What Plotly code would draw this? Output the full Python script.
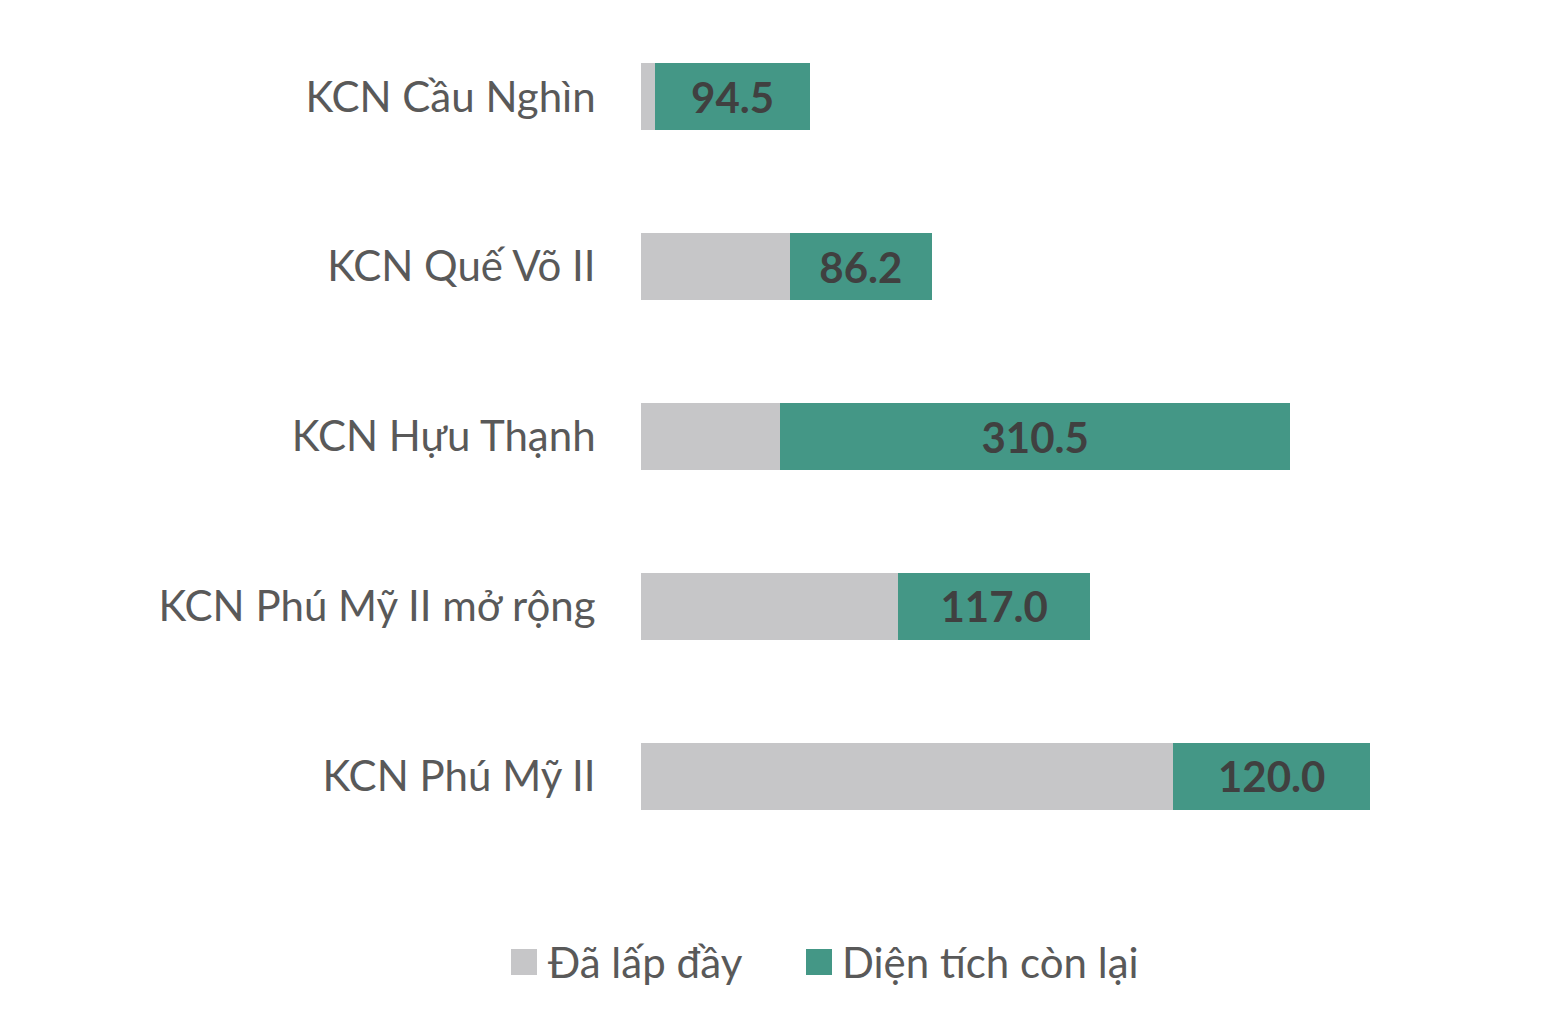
import plotly.graph_objects as go

categories = ["KCN Cầu Nghìn", "KCN Quế Võ II", "KCN Hựu Thạnh", "KCN Phú Mỹ II mở rộng", "KCN Phú Mỹ II"]
filled = [8.5, 90.6, 84.5, 156.3, 323.6]
remaining = [94.5, 86.2, 310.5, 117.0, 120.0]
series_names = ["Đã lấp đầy", "Diện tích còn lại"]

GRAY = "#C6C6C8"
TEAL = "#449786"
TXT = "#595959"
FONT = "Lato"

OFF = 8  # page offset of the figure inside the browser
W, H = 1560, 1026
ML, MR, MT, MB = 641 - OFF, 100, 12 - OFF, 165 + OFF
PW = W - ML - MR
PH = H - MT - MB

fig = go.Figure()
fig.add_trace(go.Bar(
    y=categories, x=filled, orientation="h", name=series_names[0],
    marker=dict(color=GRAY, line=dict(width=0)), showlegend=False,
))
fig.add_trace(go.Bar(
    y=categories, x=remaining, orientation="h", name=series_names[1],
    marker=dict(color=TEAL, line=dict(width=0)), showlegend=False,
    text=remaining, texttemplate="%{x:.1f}", textposition="inside",
    insidetextanchor="middle", textangle=0, constraintext="none",
    insidetextfont=dict(family=FONT, size=42, color="#404040", weight="bold"),
))

def px_to_paper_x(px):
    return (px - OFF - ML) / PW

def px_to_paper_y(py):
    return (H - MB - (py - OFF)) / PH

# custom legend
legend_y = 962
items = [(511, 549, series_names[0], GRAY), (806, 843, series_names[1], TEAL)]
shapes = []
annotations = []
for sq_x, tx, label, col in items:
    shapes.append(dict(
        type="rect", xref="paper", yref="paper",
        x0=px_to_paper_x(sq_x), x1=px_to_paper_x(sq_x + 26),
        y0=px_to_paper_y(legend_y + 13), y1=px_to_paper_y(legend_y - 13),
        fillcolor=col, line=dict(width=0),
    ))
    annotations.append(dict(
        xref="paper", yref="paper", x=px_to_paper_x(tx - 3), y=px_to_paper_y(legend_y),
        xanchor="left", yanchor="middle", text=label, showarrow=False,
        font=dict(family=FONT, size=42, color=TXT),
    ))

fig.update_layout(
    width=W, height=H,
    margin=dict(l=ML, r=MR, t=MT, b=MB),
    barmode="stack", bargap=0.605,
    paper_bgcolor="white", plot_bgcolor="white",
    showlegend=False,
    shapes=shapes, annotations=annotations,
    font=dict(family=FONT, color=TXT),
)
fig.update_xaxes(range=[0, PW / 1.644], visible=False)
fig.update_yaxes(
    autorange="reversed", showline=False, showgrid=False, zeroline=False,
    ticks="outside", ticklen=0, tickcolor="rgba(0,0,0,0)", ticklabelstandoff=36,
    tickfont=dict(family=FONT, size=42, color=TXT),
)

fig.write_html("out.html")
